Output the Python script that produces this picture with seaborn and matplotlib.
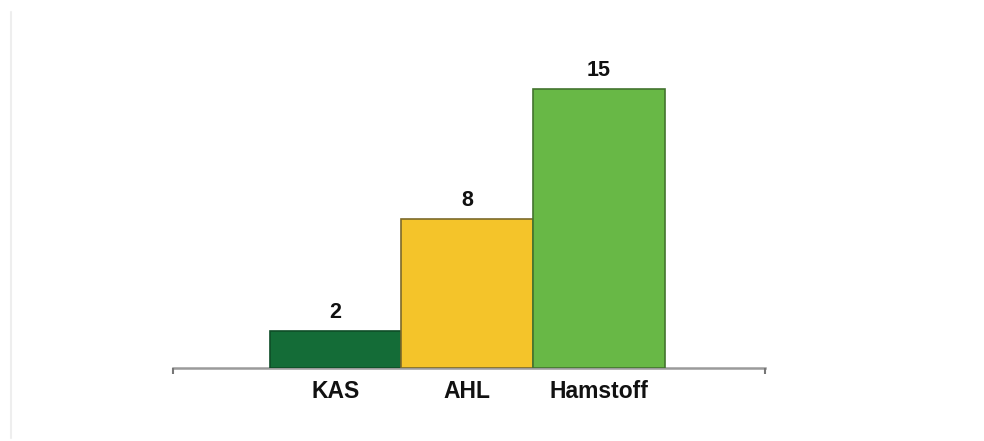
import matplotlib
matplotlib.use("Agg")
import matplotlib.pyplot as plt
import seaborn as sns
import pandas as pd
from matplotlib.lines import Line2D

categories = ["KAS", "AHL", "Hamstoff"]
values = [2, 8, 15]
bar_colors = ["#146c37", "#f4c42a", "#68b846"]
edge_colors = ["#0e4d27", "#7d6a2a", "#43742f"]

sns.set_theme(style="white")
plt.rcParams["font.family"] = ["Liberation Sans", "DejaVu Sans"]

df = pd.DataFrame({"cat": categories, "val": values})

fig = plt.figure(figsize=(9.84, 4.41), dpi=100)
ax = fig.add_axes([173 / 984, 73 / 441, 592 / 984, 335 / 441])

sns.barplot(data=df, x="cat", y="val", hue="cat", palette=bar_colors,
            width=1.0, legend=False, ax=ax, saturation=1)

for p, ec in zip(ax.patches, edge_colors):
    p.set_edgecolor(ec)
    p.set_linewidth(1.2)

for i, v in enumerate(values):
    ax.annotate(str(v), (i, v), xytext=(0, 5.5), textcoords="offset points",
                ha="center", va="bottom", fontsize=15.5, fontweight="bold",
                color="#111111")

ax.set_xlim(-1.234, 3.26)
ax.set_ylim(0, 18)
ax.set_xlabel("")
ax.set_ylabel("")
ax.set_yticks([])
for s in ["top", "right", "left"]:
    ax.spines[s].set_visible(False)
ax.spines["bottom"].set_color("#9a9a9a")
ax.spines["bottom"].set_linewidth(1.8)
ax.spines["bottom"].set_zorder(0)

ax.tick_params(axis="x", which="major", length=0, pad=9, labelsize=16.5,
               labelcolor="#111111")
for lab in ax.get_xticklabels():
    lab.set_fontweight("bold")
ax.set_xticks([-1.234, 3.26], minor=True)
ax.tick_params(axis="x", which="minor", length=4, width=1.5, color="#777777",
               direction="out", bottom=True)

fig.add_artist(Line2D([10.5 / 984, 10.5 / 984], [3 / 441, 429 / 441],
                      color="#eeeeee", linewidth=1.5, transform=fig.transFigure))

fig.savefig("out.png", dpi=100, facecolor="white")
